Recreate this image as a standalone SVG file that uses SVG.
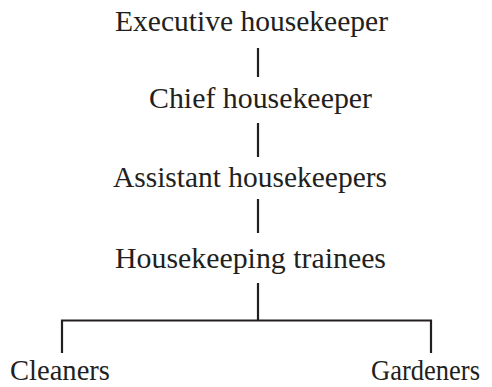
<svg xmlns="http://www.w3.org/2000/svg" width="492" height="387" viewBox="0 0 492 387">
<style>
.t{font-family:'Liberation Serif','DejaVu Serif','Times New Roman',serif;font-size:29.5px;fill:#231f20}
.c{stroke:#231f20;stroke-width:2.2;fill:none}
</style>
<rect width="492" height="387" fill="#fff"/>
<g id="connectors">
<line class="c" x1="258" y1="48" x2="258" y2="77"/>
<line class="c" x1="258" y1="123" x2="258" y2="157"/>
<line class="c" x1="258" y1="199" x2="258" y2="233"/>
<line class="c" x1="258" y1="283" x2="258" y2="321"/>
<polyline class="c" points="62,353 62,320.5 431,320.5 431,353"/>
</g>
<g id="executive"><text class="t" font-family="Liberation Serif, serif" x="115" y="31" textLength="273" lengthAdjust="spacingAndGlyphs">Executive housekeeper</text></g>
<g id="chief"><text class="t" x="149" y="108" textLength="223" lengthAdjust="spacingAndGlyphs">Chief housekeeper</text></g>
<g id="assistant"><text class="t" x="113" y="187" textLength="274" lengthAdjust="spacingAndGlyphs">Assistant housekeepers</text></g>
<g id="trainees"><text class="t" x="115" y="268" textLength="271" lengthAdjust="spacingAndGlyphs">Housekeeping trainees</text></g>
<g id="cleaners"><text class="t" x="10" y="380" textLength="100" lengthAdjust="spacingAndGlyphs">Cleaners</text></g>
<g id="gardeners"><text class="t" x="371" y="380" textLength="109" lengthAdjust="spacingAndGlyphs">Gardeners</text></g>
</svg>
